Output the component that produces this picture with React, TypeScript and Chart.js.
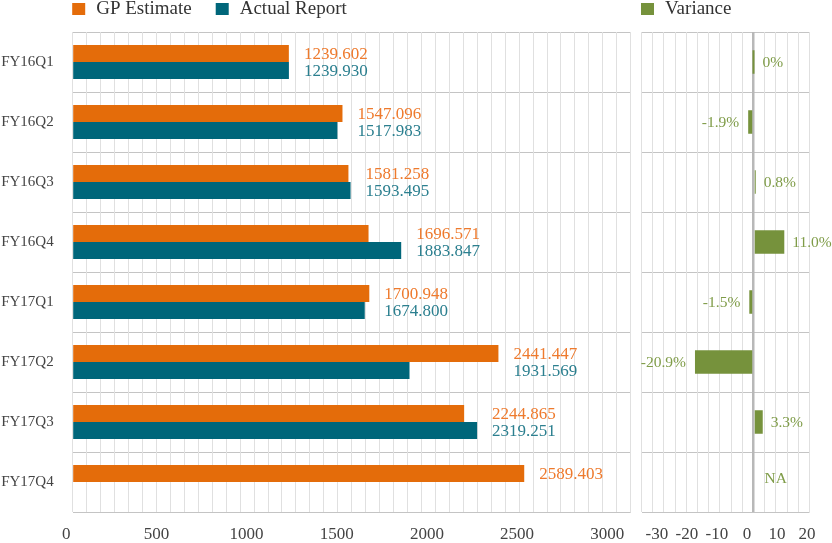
import React, { useEffect, useRef } from "react";
import { Chart, registerables } from "chart.js";

Chart.register(...registerables);

const CATEGORIES = ["FY16Q1", "FY16Q2", "FY16Q3", "FY16Q4", "FY17Q1", "FY17Q2", "FY17Q3", "FY17Q4"];
const GP_ESTIMATE = [1239.602, 1547.096, 1581.258, 1696.571, 1700.948, 2441.447, 2244.865, 2589.403];
const ACTUAL_REPORT = [1239.93, 1517.983, 1593.495, 1883.847, 1674.8, 1931.569, 2319.251, null];
const VARIANCE = [0, -1.9, 0.8, 11.0, -1.5, -20.9, 3.3, null];
const VALUE_TICKS = [0, 500, 1000, 1500, 2000, 2500, 3000];
const VARIANCE_TICKS = [-30, -20, -10, 0, 10, 20];

const FONT = '"Liberation Serif", "Times New Roman", serif';
const ORANGE = "#E46C0A";
const TEAL = "#00667A";
const GREEN = "#76923C";
const ORANGE_TEXT = "#EE7A2D";
const TEAL_TEXT = "#2B7F8F";
const GREEN_TEXT = "#7F9C48";
const V_GRID = "#e0e0e0";
const H_GRID = "#c4c4c4";

const legendPlugin = {
  id: "topLegend",
  afterDraw(chart: any) {
    const ctx = chart.ctx;
    ctx.save();
    ctx.font = `19px ${FONT}`;
    ctx.textBaseline = "middle";
    ctx.textAlign = "left";
    let x = chart.chartArea.left - 0.5;
    chart.data.datasets.forEach((ds: any) => {
      ctx.fillStyle = ds.backgroundColor;
      ctx.fillRect(x, 3, 13, 12);
      x += 24;
      ctx.fillStyle = "#333";
      ctx.fillText(ds.label, x, 9);
      x += ctx.measureText(ds.label).width + 24;
    });
    ctx.restore();
  },
};

const valueLabelPlugin = {
  id: "valueLabels",
  afterDatasetsDraw(chart: any) {
    const ctx = chart.ctx;
    ctx.save();
    ctx.font = `17px ${FONT}`;
    ctx.textBaseline = "middle";
    ctx.textAlign = "left";
    const colors = [ORANGE_TEXT, TEAL_TEXT];
    CATEGORIES.forEach((_, i) => {
      const items: { v: number; y: number; c: string }[] = [];
      let maxEnd = -Infinity;
      chart.data.datasets.forEach((ds: any, d: number) => {
        const v = ds.data[i];
        if (v === null || v === undefined) return;
        const el = chart.getDatasetMeta(d).data[i];
        maxEnd = Math.max(maxEnd, el.x);
        items.push({ v, y: el.y, c: colors[d] });
      });
      items.forEach((it) => {
        ctx.fillStyle = it.c;
        ctx.fillText(it.v.toFixed(3), maxEnd + 15, it.y + 1);
      });
    });
    ctx.restore();
  },
};

const varianceLabelPlugin = {
  id: "varianceLabels",
  afterDatasetsDraw(chart: any) {
    const ctx = chart.ctx;
    ctx.save();
    ctx.font = `15.5px ${FONT}`;
    ctx.textBaseline = "middle";
    ctx.fillStyle = GREEN_TEXT;
    const meta = chart.getDatasetMeta(0);
    const zero = chart.scales.x.getPixelForValue(0);
    VARIANCE.forEach((v, i) => {
      const yc = chart.scales.y.getPixelForValue(i);
      if (v === null) {
        ctx.textAlign = "left";
        ctx.fillText("NA", zero + 11, yc - 3);
        return;
      }
      const el = meta.data[i];
      const text = v === 0 ? "0%" : v.toFixed(1) + "%";
      if (v < 0) {
        ctx.textAlign = "right";
        ctx.fillText(text, Math.min(el.x, el.base) - 9, yc + 1);
      } else {
        ctx.textAlign = "left";
        ctx.fillText(text, Math.max(el.x, el.base) + 8, yc + 1);
      }
    });
    ctx.restore();
  },
};

function zeroPad(s: any) {
  s.paddingLeft = 0;
  s.paddingRight = 0;
  s.paddingTop = 0;
  s.paddingBottom = 0;
}

const plainTick = (v: any) => String(v);

export default function App() {
  const leftRef = useRef<HTMLCanvasElement>(null);
  const rightRef = useRef<HTMLCanvasElement>(null);

  useEffect(() => {
    const left = new Chart(leftRef.current as HTMLCanvasElement, {
      type: "bar",
      data: {
        labels: CATEGORIES,
        datasets: [
          { label: "GP Estimate", data: GP_ESTIMATE, backgroundColor: ORANGE, xAxisID: "x" },
          { label: "Actual Report", data: ACTUAL_REPORT as any, backgroundColor: TEAL, xAxisID: "x" },
        ],
      },
      options: {
        indexAxis: "y",
        responsive: false,
        animation: false,
        layout: { padding: { left: 0, right: 9.3, top: 32, bottom: 0 } },
        datasets: { bar: { categoryPercentage: 34 / 60, barPercentage: 1 } },
        plugins: { legend: { display: false }, tooltip: { enabled: false } },
        scales: {
          y: {
            type: "category",
            offset: true,
            border: { display: false },
            grid: { offset: true, color: H_GRID, drawTicks: false },
            ticks: { color: "#444", font: { family: FONT, size: 15 }, padding: 19 },
            afterFit: (s: any) => {
              s.width = 72.7;
              zeroPad(s);
            },
          },
          x: {
            type: "linear",
            position: "bottom",
            min: 0,
            max: 3200,
            border: { display: false },
            grid: { color: V_GRID, drawTicks: false },
            ticks: { display: false, stepSize: 80, maxTicksLimit: 100 },
            afterFit: (s: any) => {
              s.height = 0;
              zeroPad(s);
            },
          },
          xl: {
            type: "linear",
            position: "bottom",
            min: 36,
            max: 3130,
            border: { display: false },
            grid: { display: false, drawTicks: false },
            ticks: {
              color: "#444",
              font: { family: FONT, size: 17 },
              padding: 12,
              autoSkip: false,
              maxRotation: 0,
              callback: plainTick,
            },
            afterBuildTicks: (s: any) => {
              s.ticks = VALUE_TICKS.map((v) => ({ value: v }));
            },
            afterFit: (s: any) => {
              s.height = 31;
              zeroPad(s);
            },
          },
        },
      } as any,
      plugins: [legendPlugin, valueLabelPlugin],
    });

    const right = new Chart(rightRef.current as HTMLCanvasElement, {
      type: "bar",
      data: {
        labels: CATEGORIES,
        datasets: [{ label: "Variance", data: VARIANCE as any, backgroundColor: GREEN, xAxisID: "x", minBarLength: 2 }],
      },
      options: {
        indexAxis: "y",
        responsive: false,
        animation: false,
        layout: { padding: { left: 51.5, right: 22.5, top: 32, bottom: 0 } },
        datasets: { bar: { categoryPercentage: 1, barPercentage: 0.39 } },
        plugins: { legend: { display: false }, tooltip: { enabled: false } },
        scales: {
          y: {
            type: "category",
            offset: true,
            border: { display: false },
            grid: { offset: true, color: H_GRID, drawTicks: false },
            ticks: { display: false },
            afterFit: (s: any) => {
              s.width = 0;
              zeroPad(s);
            },
          },
          x: {
            type: "linear",
            position: "bottom",
            min: -40,
            max: 20,
            border: { display: false },
            grid: {
              color: (c: any) => (c.tick && c.tick.value === 0 ? "#b8b8b8" : V_GRID),
              lineWidth: (c: any) => (c.tick && c.tick.value === 0 ? 2.5 : 1),
              drawTicks: false,
            },
            ticks: { display: false, stepSize: 4, maxTicksLimit: 100 },
            afterFit: (s: any) => {
              s.height = 0;
              zeroPad(s);
            },
          },
          xl: {
            type: "linear",
            position: "bottom",
            min: -35.1,
            max: 20.85,
            border: { display: false },
            grid: { display: false, drawTicks: false },
            ticks: {
              color: "#444",
              font: { family: FONT, size: 17 },
              padding: 12,
              autoSkip: false,
              maxRotation: 0,
              callback: plainTick,
            },
            afterBuildTicks: (s: any) => {
              s.ticks = VARIANCE_TICKS.map((v) => ({ value: v }));
            },
            afterFit: (s: any) => {
              s.height = 31;
              zeroPad(s);
            },
          },
        },
      } as any,
      plugins: [legendPlugin, varianceLabelPlugin],
    });

    return () => {
      left.destroy();
      right.destroy();
    };
  }, []);

  return (
    <div style={{ position: "absolute", left: 0, top: 0, width: 832, height: 543, background: "#fff", overflow: "hidden" }}>
      <canvas ref={leftRef} width={640} height={543} style={{ position: "absolute", left: 0, top: 0, width: 640, height: 543 }} />
      <canvas ref={rightRef} width={242} height={543} style={{ position: "absolute", left: 590, top: 0, width: 242, height: 543 }} />
    </div>
  );
}
